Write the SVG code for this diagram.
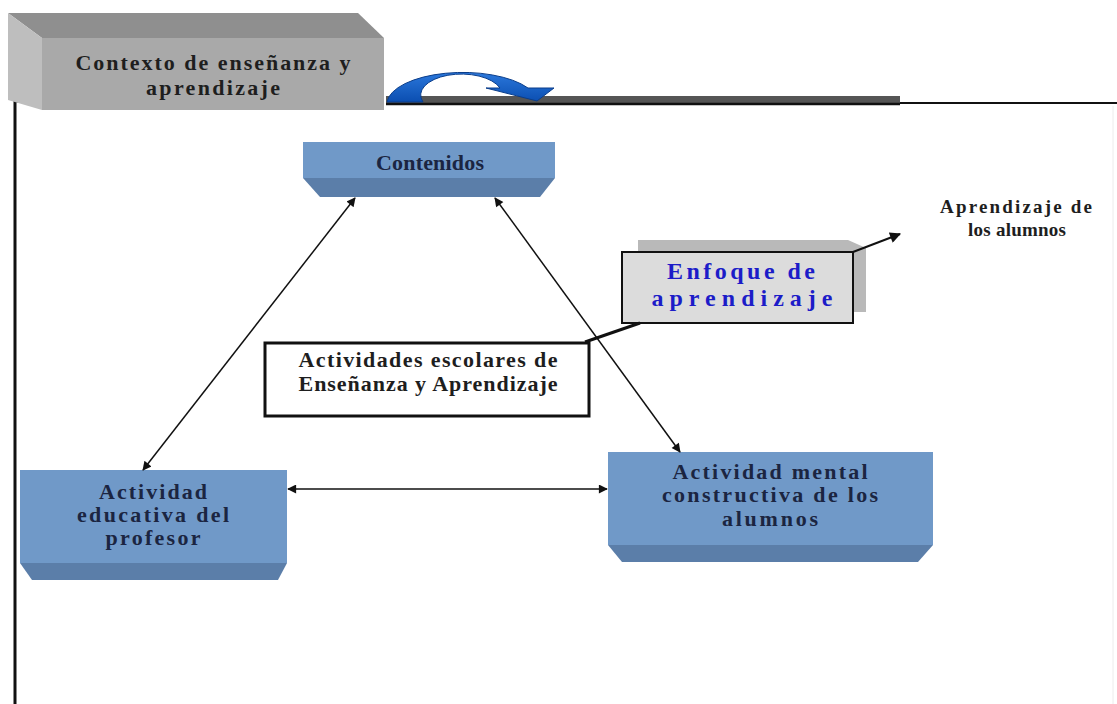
<svg xmlns="http://www.w3.org/2000/svg" width="1117" height="704" viewBox="0 0 1117 704">
  <defs>
    <style>
      .t { font-family: "Liberation Serif", "Times New Roman", serif; font-weight: bold; text-anchor: middle; }
      .navy { fill: #1b2541; font-size: 22px; }
      .dark { fill: #1e1e1e; font-size: 22px; }
      .small { font-size: 19px; }
      .blue { fill: #1c1cc8; font-size: 24px; }
      .face { fill: #7099c8; }
      .bevel { fill: #5b7ea9; }
      .conn { stroke: #111; stroke-width: 1.5; fill: none; }
    </style>
    <marker id="ah" viewBox="0 0 10 10" refX="9" refY="5" markerWidth="11" markerHeight="9" markerUnits="userSpaceOnUse" orient="auto-start-reverse">
      <path d="M0,0 L10,5 L0,10 Z" fill="#111"/>
    </marker>
    <marker id="ah2" viewBox="0 0 10 10" refX="9" refY="5" markerWidth="14" markerHeight="11" markerUnits="userSpaceOnUse" orient="auto">
      <path d="M0,0 L10,5 L0,10 Z" fill="#111"/>
    </marker>
    <linearGradient id="arcBlue" x1="0" y1="0" x2="0" y2="1">
      <stop offset="0" stop-color="#2b78dc"/>
      <stop offset="1" stop-color="#0b4eb0"/>
    </linearGradient>
  </defs>

  <rect width="1117" height="704" fill="#ffffff"/>

  <!-- outer frame -->
  <g id="frame">
    <line x1="15" y1="100" x2="15" y2="704" stroke="#111" stroke-width="3"/>
    <line x1="14" y1="101" x2="42" y2="101" stroke="#111" stroke-width="3"/>
    <rect x="386" y="96" width="514" height="7" fill="#555"/>
    <line x1="386" y1="104" x2="900" y2="104" stroke="#111" stroke-width="2.5"/>
    <line x1="900" y1="103" x2="1117" y2="103" stroke="#111" stroke-width="2"/>
    <line x1="1113" y1="106" x2="1113" y2="704" stroke="#ececec" stroke-width="1"/>
  </g>

  <!-- context box -->
  <g id="contexto">
    <polygon points="8,13 358,13 384,38 42,38" fill="#8f8f8f"/>
    <polygon points="8,13 42,38 42,110 8,100" fill="#bebebe"/>
    <rect x="42" y="38" width="342" height="72" fill="#a9a9a9"/>
    <text class="t dark" font-family="Liberation Serif, serif" x="213" y="70" textLength="275" lengthAdjust="spacing">Contexto de enseñanza y</text>
    <text class="t dark" font-family="Liberation Serif, serif" x="213" y="95" textLength="134" lengthAdjust="spacing">aprendizaje</text>
  </g>

  <!-- curved arrow -->
  <g id="cycle-arrow">
    <path d="M387,102 A76,32 0 0 1 528,88 L554,88 L537,101 L486,88 L500,88 A39,20 0 0 0 423,102 Z" fill="url(#arcBlue)" stroke="#0a3d8a" stroke-width="1"/>
  </g>

  <!-- nodes -->
  <g id="contenidos">
    <rect x="303" y="142" width="252" height="36" class="face"/>
    <polygon points="303,178 555,178 540,197 320,197" class="bevel"/>
    <text class="t navy" font-family="Liberation Serif, serif" x="430" y="170" textLength="108" lengthAdjust="spacing">Contenidos</text>
  </g>

  <g id="aprendizaje-alumnos">
    <text class="t dark small" font-family="Liberation Serif, serif" x="1016" y="213" textLength="152" lengthAdjust="spacing">Aprendizaje de</text>
    <text class="t dark small" font-family="Liberation Serif, serif" x="1017" y="236" textLength="98" lengthAdjust="spacing">los alumnos</text>
  </g>

  <g id="enfoque">
    <polygon points="638,240 848,240 866,248 866,312 853,312 853,252 638,252" fill="#b9b9b9"/>
    <rect x="622" y="252" width="231" height="71" fill="#dcdcdc" stroke="#111" stroke-width="2"/>
    <text class="t blue" font-family="Liberation Serif, serif" x="741" y="279" textLength="148" lengthAdjust="spacing">Enfoque de</text>
    <text class="t blue" font-family="Liberation Serif, serif" x="742" y="306" textLength="181" lengthAdjust="spacing">aprendizaje</text>
  </g>

  <g id="actividades-escolares">
    <rect x="265" y="343" width="324" height="73" fill="#ffffff" stroke="#111" stroke-width="3"/>
    <text class="t dark" font-family="Liberation Serif, serif" x="428" y="367" textLength="259" lengthAdjust="spacing">Actividades escolares de</text>
    <text class="t dark" font-family="Liberation Serif, serif" x="428" y="391" textLength="259" lengthAdjust="spacing">Enseñanza y Aprendizaje</text>
  </g>

  <g id="actividad-profesor">
    <rect x="20" y="470" width="267" height="93" class="face"/>
    <polygon points="20,563 287,563 278,580 32,580" class="bevel"/>
    <text class="t navy" font-family="Liberation Serif, serif" x="153" y="499" textLength="108" lengthAdjust="spacing">Actividad</text>
    <text class="t navy" font-family="Liberation Serif, serif" x="153" y="522" textLength="152" lengthAdjust="spacing">educativa del</text>
    <text class="t navy" font-family="Liberation Serif, serif" x="153" y="545" textLength="95" lengthAdjust="spacing">profesor</text>
  </g>

  <g id="actividad-alumnos">
    <rect x="608" y="452" width="325" height="93" class="face"/>
    <polygon points="608,545 933,545 918,562 622,562" class="bevel"/>
    <text class="t navy" font-family="Liberation Serif, serif" x="770" y="479" textLength="195" lengthAdjust="spacing">Actividad mental</text>
    <text class="t navy" font-family="Liberation Serif, serif" x="770" y="502" textLength="216" lengthAdjust="spacing">constructiva de los</text>
    <text class="t navy" font-family="Liberation Serif, serif" x="770" y="526" textLength="96" lengthAdjust="spacing">alumnos</text>
  </g>

  <!-- connectors -->
  <g id="connectors">
    <line class="conn" x1="355" y1="198" x2="143" y2="470" marker-start="url(#ah)" marker-end="url(#ah)"/>
    <line class="conn" x1="495" y1="198" x2="680" y2="452" marker-start="url(#ah)" marker-end="url(#ah)"/>
    <line class="conn" x1="288" y1="489" x2="607" y2="489" marker-start="url(#ah)" marker-end="url(#ah)"/>
    <line x1="585" y1="342" x2="640" y2="323" stroke="#111" stroke-width="3"/>
    <line x1="853" y1="252" x2="900" y2="234" stroke="#111" stroke-width="2" marker-end="url(#ah2)"/>
  </g>
</svg>
